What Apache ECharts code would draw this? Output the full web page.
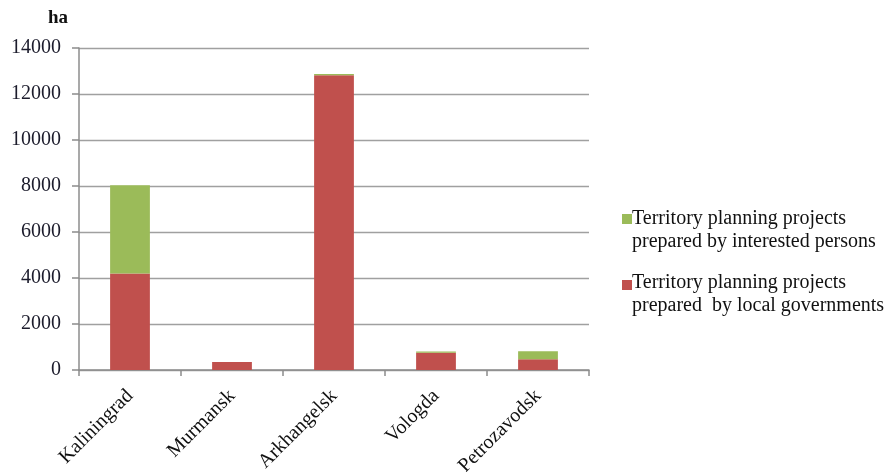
<!DOCTYPE html>
<html><head><meta charset="utf-8">
<script src="https://cdn.jsdelivr.net/npm/echarts@6/dist/echarts.min.js"></script>
<style>html,body{margin:0;padding:0;background:#fff}#c{width:890px;height:472px}</style>
</head><body><div id="c"></div>
<script>
const categories = ['Kaliningrad','Murmansk','Arkhangelsk','Vologda','Petrozavodsk'];
const localGov = [4200, 350, 12820, 750, 470];
const interested = [3830, 0, 50, 50, 340];
const seriesNames = ['Territory planning projects\nprepared by interested persons','Territory planning projects\nprepared  by local governments'];
const seriesColors = ['#9bbb59', '#c0504d'];
const yTicks = {min:0, max:14000, interval:2000};

const font = 'Liberation Serif';
const chart = echarts.init(document.getElementById('c'));
const legendItems = [];
seriesNames.forEach((n, i) => {
  legendItems.push({type:'rect', left:622, top:214 + i*66, shape:{width:10, height:10}, style:{fill:seriesColors[i]}});
  legendItems.push({type:'text', left:632, top:207 + i*64, style:{text:n, font:'20px "Liberation Serif"', lineHeight:23, fill:'#111'}});
});
chart.setOption({
  animation:false,
  grid:{left:79, right:301, top:48, bottom:102, containLabel:false, outerBoundsMode:'none'},
  graphic:[
    {type:'text', left:48, top:9, style:{text:'ha', font:'bold 19px "Liberation Serif"', fill:'#111'}}
  ].concat(legendItems),
  xAxis:{
    type:'category', data:categories,
    axisLine:{lineStyle:{color:'#8c8c8c', width:1.5}},
    axisTick:{show:true, length:6, lineStyle:{color:'#8c8c8c', width:1.5}},
    axisLabel:{rotate:45, fontFamily:font, fontSize:20, color:'#111', margin:23}
  },
  yAxis:{
    type:'value', min:yTicks.min, max:yTicks.max, interval:yTicks.interval,
    axisLine:{show:true, lineStyle:{color:'#8c8c8c', width:1.5}},
    axisTick:{show:true, length:7, lineStyle:{color:'#8c8c8c', width:1.5}},
    splitLine:{lineStyle:{color:'#a0a0a0', width:1.3}},
    axisLabel:{fontFamily:font, fontSize:20, color:'#1c1c2c', margin:18, formatter:v => String(v)}
  },
  series:[
    {name:seriesNames[1], type:'bar', stack:'a', data:localGov, barWidth:'39%',
     itemStyle:{color:seriesColors[1]}},
    {name:seriesNames[0], type:'bar', stack:'a', data:interested, barWidth:'39%',
     itemStyle:{color:seriesColors[0]}}
  ]
});
</script></body></html>
